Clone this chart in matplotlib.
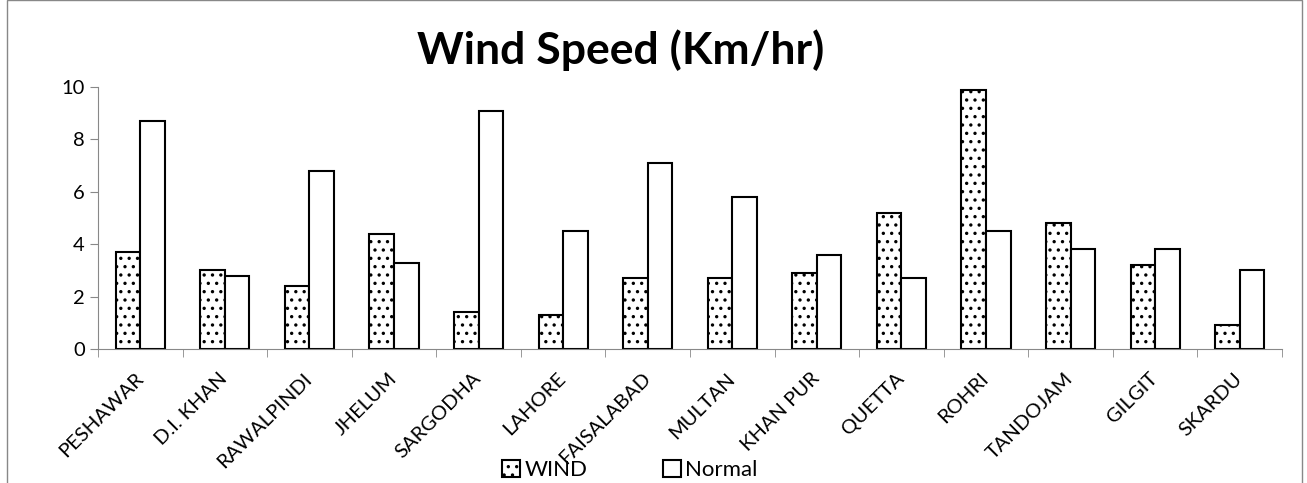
import numpy as np
import matplotlib.pyplot as plt
import matplotlib.transforms as mtransforms

stations = ['PESHAWAR', 'D.I. KHAN', 'RAWALPINDI', 'JHELUM', 'SARGODHA', 'LAHORE',
            'FAISALABAD', 'MULTAN', 'KHAN PUR', 'QUETTA', 'ROHRI', 'TANDOJAM',
            'GILGIT', 'SKARDU']
wind = [3.7, 3.0, 2.4, 4.4, 1.4, 1.3, 2.7, 2.7, 2.9, 5.2, 9.9, 4.8, 3.2, 0.9]
normal = [8.7, 2.8, 6.8, 3.3, 9.1, 4.5, 7.1, 5.8, 3.6, 2.7, 4.5, 3.8, 3.8, 3.0]

plt.rcParams['font.family'] = ['Lato', 'DejaVu Sans']
plt.rcParams['hatch.linewidth'] = 1.2

fig = plt.figure(figsize=(13.07, 4.83), dpi=100)
ax = fig.add_axes([98 / 1307, 1 - 349 / 483, (1282 - 98) / 1307, (349 - 87) / 483])

x = np.arange(len(stations))
w = 0.29
ax.bar(x - w / 2, wind, w, color='white', edgecolor='black', linewidth=1.5,
       hatch='..', label='WIND')
ax.bar(x + w / 2, normal, w, color='white', edgecolor='black', linewidth=1.5,
       label='Normal')

ax.set_xlim(-0.5, len(stations) - 0.5)
ax.set_ylim(0, 10)
ax.set_yticks([0, 2, 4, 6, 8, 10])
ax.set_xticks(np.arange(len(stations) + 1) - 0.5, minor=True)
ax.set_xticks(x)
ax.set_xticklabels(stations, rotation=45, ha='right', rotation_mode='anchor')
ax.tick_params(axis='x', which='major', length=0, labelsize=14.5, pad=15)
ax.tick_params(axis='x', which='minor', length=6, color='#888888')
ax.tick_params(axis='y', length=6, color='#888888', labelsize=14.5)
shift = mtransforms.ScaledTranslation(-6 / 100, 0, fig.dpi_scale_trans)
for lab in ax.get_xticklabels():
    lab.set_transform(lab.get_transform() + shift)
for s in ['top', 'right']:
    ax.spines[s].set_visible(False)
for s in ['left', 'bottom']:
    ax.spines[s].set_color('#888888')

fig.text(0.475, 1 - 50 / 483, 'Wind Speed (Km/hr)', fontsize=32, fontweight='bold',
         ha='center', va='center')

fig.legend(loc='center', bbox_to_anchor=(630 / 1307, 1 - 470 / 483), ncol=2, frameon=False,
           fontsize=16, handlelength=0.8, handleheight=0.8, handletextpad=0.2,
           columnspacing=3.4)

fig.patches.append(plt.Rectangle((7 / 1307, -0.05), 1295 / 1307, 1.049,
                                 transform=fig.transFigure, fill=False,
                                 edgecolor='#888888', linewidth=1))

fig.savefig('out.png', dpi=100)
